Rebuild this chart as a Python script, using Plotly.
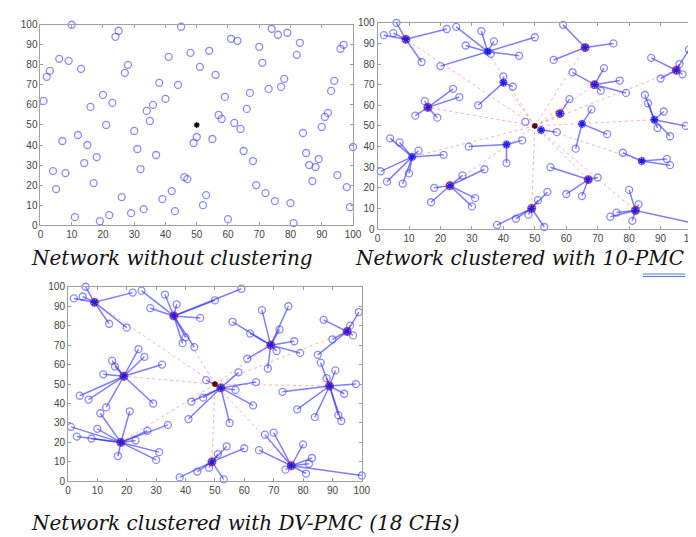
import plotly.graph_objects as go

SINK = (50, 50)

# ---------------- Panel 1 : network without clustering ----------------
P1_X = [10, 25, 24, 45, 61, 63, 74, 76, 79, 70, 83, 97, 96, 6, 9, 3, 2, 13, 28, 27,
        41, 48, 54, 51, 56, 71, 82, 78, 77, 73, 94, 93, 67, 59, 38, 44, 1, 20, 23, 16,
        40, 36, 34, 35, 21, 57, 58, 62, 64, 66, 92, 91, 90, 84, 12, 7, 15, 30, 31, 50,
        49, 55, 37, 18, 14, 4, 8, 5, 17, 32, 65, 68, 85, 86, 88, 89, 87, 95, 100, 98,
        99, 46, 47, 42, 39, 26, 53, 52, 69, 72, 75, 80, 81, 60, 43, 33, 29, 22, 19, 11]
P1_Y = [100, 97, 94, 99, 93, 92, 98, 95, 96, 89, 91, 90, 88, 83, 82, 77, 74, 78, 80, 76,
        84, 86, 87, 79, 75, 81, 85, 73, 69, 68, 72, 67, 66, 64, 71, 70, 62, 65, 61, 59,
        63, 60, 57, 52, 50, 55, 53, 51, 48, 58, 56, 54, 49, 46, 45, 42, 40, 47, 38, 44,
        41, 43, 35, 34, 31, 27, 26, 18, 21, 28, 37, 32, 36, 30, 29, 33, 22, 25, 39, 19,
        9, 24, 23, 17, 13, 14, 15, 10, 20, 16, 12, 11, 1, 3, 7, 8, 6, 5, 2, 4]

# ---------------- Panel 2 : 10-PMC ----------------
PMC_HUBS = [(9, 92), (35, 86), (66, 88), (95, 77), (69, 70), (16, 59), (11, 35), (23, 21),
            (49, 10), (67, 24), (82, 9), (88, 53), (40, 71), (58, 56), (65, 51), (41, 41),
            (84, 33), (52, 48)]
PMC_MEMBERS = [
    [(2, 94), (5, 95), (6, 100), (22, 97), (14, 81)],
    [(25, 98), (33, 96), (28, 89), (37, 91), (50, 93), (45, 84), (20, 79), (36, 85)],
    [(59, 99), (75, 90), (56, 82)],
    [(87, 83), (90, 73), (96, 80), (99, 87), (97, 75)],
    [(62, 76), (72, 78), (77, 72), (71, 67), (79, 66)],
    [(15, 62), (24, 68), (26, 64), (12, 55), (19, 54)],
    [(4, 44), (7, 42), (13, 38), (21, 36), (1, 28), (3, 23), (8, 22), (10, 27)],
    [(27, 26), (18, 20), (17, 13), (34, 29), (31, 15), (30, 11)],
    [(38, 2), (44, 5), (48, 7), (51, 14), (54, 18), (53, 1)],
    [(55, 30), (60, 17), (65, 16), (70, 25)],
    [(80, 19), (83, 12), (81, 4), (74, 6), (76, 8), (100, 3)],
    [(85, 65), (86, 61), (91, 57), (98, 50), (89, 49), (93, 45)],
    [(40, 74), (43, 69), (32, 60)],
    [(61, 63)],
    [(68, 58), (63, 39), (73, 46)],
    [(29, 40), (46, 43), (41, 32)],
    [(78, 37), (92, 34), (93, 31)],
    [(57, 47)],
]
PMC_CH = [(9, 92), (66, 88), (95, 77), (69, 70), (16, 59), (58, 56), (23, 21), (49, 10),
          (67, 24), (82, 9)]
PMC_LINKS = [(9, 92), (35, 86), (40, 71), (66, 88), (58, 56), (69, 70), (95, 77), (16, 59),
             (88, 53), (11, 35), (23, 21), (49, 10), (67, 24), (82, 9), (84, 33)]
PMC_LOOSE = [(47, 52)]

# ---------------- Panel 3 : DV-PMC ----------------
DV_HUBS = [(9, 92), (36, 85), (69, 70), (95, 77), (19, 54), (52, 48), (89, 49), (18, 20),
           (49, 10), (76, 8)]
DV_MEMBERS = [
    [(2, 94), (5, 95), (6, 100), (22, 97), (14, 81), (20, 79)],
    [(25, 98), (33, 96), (28, 89), (37, 91), (50, 93), (59, 99), (45, 84), (40, 74),
     (39, 71), (43, 69)],
    [(56, 82), (66, 88), (75, 90), (62, 76), (72, 78), (77, 72), (71, 67), (79, 66),
     (68, 58), (61, 63)],
    [(87, 83), (90, 73), (96, 80), (99, 87), (97, 75), (85, 65)],
    [(15, 62), (16, 59), (24, 68), (26, 64), (12, 55), (32, 60), (4, 44), (7, 42),
     (13, 38), (29, 40)],
    [(47, 52), (58, 56), (64, 51), (57, 47), (63, 39), (55, 30), (46, 43), (42, 41),
     (41, 32)],
    [(86, 61), (88, 53), (91, 57), (98, 50), (73, 46), (94, 45), (78, 37), (84, 33),
     (92, 34), (93, 31)],
    [(1, 28), (3, 23), (8, 22), (11, 35), (10, 27), (21, 36), (27, 26), (23, 21),
     (34, 29), (31, 15), (30, 11), (17, 13)],
    [(38, 2), (44, 5), (48, 7), (51, 14), (54, 18), (60, 17), (53, 1)],
    [(65, 16), (67, 24), (70, 25), (80, 19), (83, 12), (82, 9), (81, 4), (74, 6),
     (100, 3)],
]
DV_LINKS = [(9, 92), (36, 85), (69, 70), (95, 77), (19, 54), (89, 49), (18, 20), (49, 10),
            (76, 8)]

CAPTIONS = ["Network without clustering", "Network clustered with 10-PMC",
            "Network clustered with DV-PMC (18 CHs)"]

NODE_COLOR = "rgba(60,60,255,0.6)"
LINK_COLOR = "rgba(40,40,255,0.6)"
RED_COLOR = "rgba(255,60,60,0.4)"

fig = go.Figure()


def star_segments(hubs, members):
    xs, ys = [], []
    for h, ms in zip(hubs, members):
        for m in ms:
            xs += [h[0], m[0], None]
            ys += [h[1], m[1], None]
    return xs, ys


def sink_segments(targets):
    xs, ys = [], []
    for t in targets:
        xs += [SINK[0], t[0], None]
        ys += [SINK[1], t[1], None]
    return xs, ys


def add_nodes(xs, ys, ax):
    fig.add_trace(go.Scatter(x=xs, y=ys, mode="markers", xaxis="x" + ax, yaxis="y" + ax,
                             cliponaxis=False, showlegend=False,
                             marker=dict(symbol="circle-open", size=7, color=NODE_COLOR,
                                         line=dict(width=1.3))))


# Panel 1
add_nodes(P1_X, P1_Y, "")
fig.add_trace(go.Scatter(x=[SINK[0]], y=[SINK[1]], mode="markers", showlegend=False,
                         marker=dict(symbol="asterisk-open", size=5, color="black",
                                     line=dict(width=1.2))))


def clustered_panel(ax, hubs, members, links, ch, loose):
    rx, ry = sink_segments(links)
    fig.add_trace(go.Scatter(x=rx, y=ry, mode="lines", xaxis="x" + ax, yaxis="y" + ax,
                             showlegend=False,
                             line=dict(color=RED_COLOR, width=1, dash="dot")))
    bx, by = star_segments(hubs, members)
    fig.add_trace(go.Scatter(x=bx, y=by, mode="lines", xaxis="x" + ax, yaxis="y" + ax,
                             showlegend=False, line=dict(color=LINK_COLOR, width=1.5)))
    nx = [p[0] for ms in members for p in ms] + [h[0] for h in hubs] + [p[0] for p in loose]
    ny = [p[1] for ms in members for p in ms] + [h[1] for h in hubs] + [p[1] for p in loose]
    add_nodes(nx, ny, ax)
    fig.add_trace(go.Scatter(x=[c[0] for c in ch], y=[c[1] for c in ch], mode="markers",
                             xaxis="x" + ax, yaxis="y" + ax, showlegend=False,
                             marker=dict(symbol="circle-open", size=8,
                                         color="rgba(220,0,0,0.55)", line=dict(width=1.3))))
    fig.add_trace(go.Scatter(x=[h[0] for h in hubs], y=[h[1] for h in hubs], mode="markers",
                             xaxis="x" + ax, yaxis="y" + ax, showlegend=False,
                             marker=dict(symbol="asterisk-open", size=6,
                                         color="rgb(30,30,230)", line=dict(width=1.5))))
    fig.add_trace(go.Scatter(x=[SINK[0]], y=[SINK[1]], mode="markers",
                             xaxis="x" + ax, yaxis="y" + ax, showlegend=False,
                             marker=dict(symbol="asterisk-open", size=5,
                                         color="rgb(90,0,0)", line=dict(width=1.5))))


clustered_panel("2", PMC_HUBS, PMC_MEMBERS, PMC_LINKS, PMC_CH, PMC_LOOSE)
clustered_panel("3", DV_HUBS, DV_MEMBERS, DV_LINKS, DV_HUBS, [])

W, H = 696, 537


def px_x(v):
    return v / W


def px_y(v):
    return 1 - v / H


axis_common = dict(range=[0, 100], tick0=0, dtick=10, showgrid=False, zeroline=False,
                   showline=True, linecolor="#a0a0a0", linewidth=1, mirror="ticks",
                   ticks="inside", ticklen=3, tickcolor="#a0a0a0",
                   tickfont=dict(family="Arial, Liberation Sans", size=10, color="#444"))

fig.update_layout(
    width=W, height=H, margin=dict(l=0, r=0, t=0, b=0),
    paper_bgcolor="white", plot_bgcolor="white", showlegend=False,
    xaxis=dict(axis_common, domain=[px_x(30), px_x(348)], anchor="y"),
    yaxis=dict(axis_common, domain=[px_y(216), px_y(11)], anchor="x"),
    xaxis2=dict(axis_common, domain=[px_x(373), px_x(693)], anchor="y2"),
    yaxis2=dict(axis_common, domain=[px_y(220), px_y(9)], anchor="x2"),
    xaxis3=dict(axis_common, domain=[px_x(58), px_x(357)], anchor="y3"),
    yaxis3=dict(axis_common, domain=[px_y(478), px_y(279)], anchor="x3"),
)

cap_font = dict(family="DejaVu Serif", size=20, color="#111")
cap_pos = [(18, 250), (348, 250), (18, 521)]
for text, (cx, cy) in zip(CAPTIONS, cap_pos):
    fig.add_annotation(text="<i>" + text + "</i>", xref="paper", yref="paper",
                       x=px_x(cx), y=px_y(cy), xanchor="left", yanchor="middle",
                       showarrow=False, font=cap_font)

# spell-check style double underline below "PMC"
for uy in (266, 268.5):
    fig.add_shape(type="line", xref="paper", yref="paper",
                  x0=px_x(643), x1=px_x(686), y0=px_y(uy), y1=px_y(uy),
                  line=dict(color="#4a78d8", width=1))

fig.write_html("out.html")
